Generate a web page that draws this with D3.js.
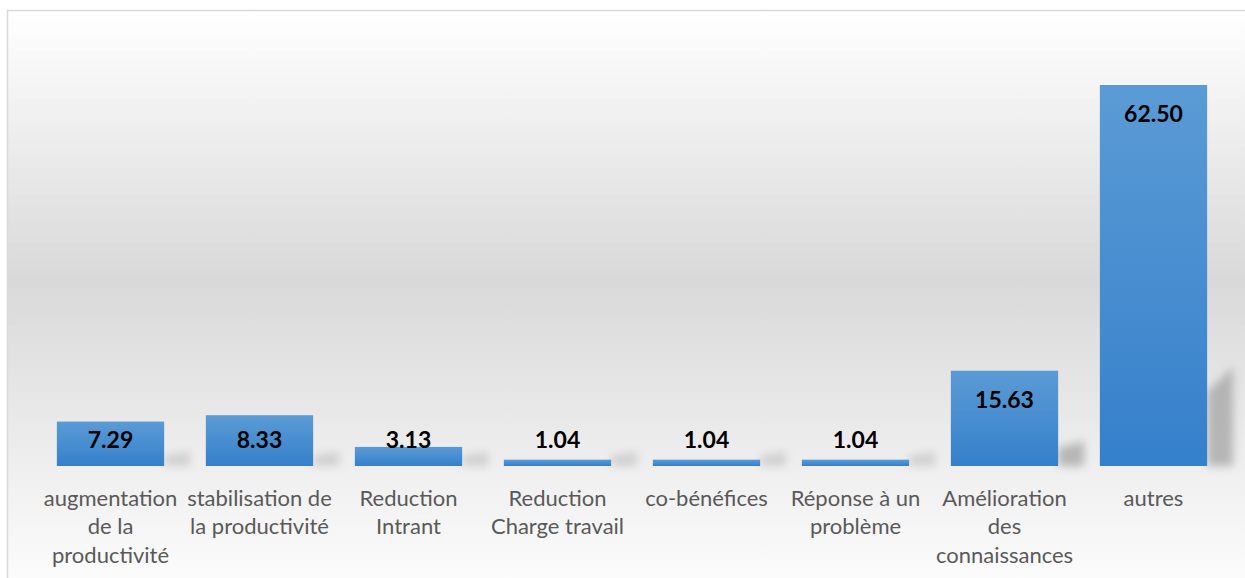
<!DOCTYPE html>
<html><head><meta charset="utf-8">
<script src="https://cdn.jsdelivr.net/npm/d3@7"></script>
<style>html,body{margin:0;padding:0;background:#fff;}svg{display:block;}</style>
</head><body>
<script>
const categories = ["augmentation\nde la\nproductivité","stabilisation de\nla productivité","Reduction\nIntrant","Reduction\nCharge travail","co-bénéfices","Réponse à un\nproblème","Amélioration\ndes\nconnaissances","autres"];
const values = [7.29, 8.33, 3.13, 1.04, 1.04, 1.04, 15.63, 62.50];
const valueLabels = ["7.29","8.33","3.13","1.04","1.04","1.04","15.63","62.50"];

const W = 1245, H = 578;
const svg = d3.select("body").append("svg").attr("width", W).attr("height", H);
const defs = svg.append("defs");

const bg = defs.append("linearGradient").attr("id","bg").attr("x1",0).attr("y1",0).attr("x2",0).attr("y2",1);
bg.append("stop").attr("offset","0%").attr("stop-color","#ffffff");
bg.append("stop").attr("offset","45%").attr("stop-color","#d9d9d9");
bg.append("stop").attr("offset","100%").attr("stop-color","#ffffff");

const bar = defs.append("linearGradient").attr("id","bar").attr("x1",0).attr("y1",0).attr("x2",0).attr("y2",1);
bar.append("stop").attr("offset","0%").attr("stop-color","#5b9bd5");
bar.append("stop").attr("offset","100%").attr("stop-color","#3580cb");

const blur = defs.append("filter").attr("id","blur").attr("x","-50%").attr("y","-50%").attr("width","200%").attr("height","200%");
blur.append("feGaussianBlur").attr("stdDeviation",4.5);

// background frame
svg.append("rect").attr("x",7.5).attr("y",10.5).attr("width",W+20).attr("height",H+20)
  .attr("fill","url(#bg)").attr("stroke","#d9d9d9").attr("stroke-width",1.5);

const x = d3.scaleBand().domain(categories).range([36,1228]).paddingInner(0.28).paddingOuter(0.14);
const y = d3.scaleLinear().domain([0,70]).range([466, 466-70*6.096]);
const data = categories.map((c,i)=>({c, v:values[i], l:valueLabels[i]}));

// shadows
svg.append("g").selectAll("path").data(data).join("path")
  .attr("d", d => {
    const xr = x(d.c)+x.bandwidth(), b = y(0), h = y(0)-y(d.v);
    const sh = Math.max(Math.min(h*0.26, 100), 14), sw = 26;
    return `M${xr},${b} L${xr},${b-sh*0.75} L${xr+sw},${b-sh} L${xr+sw},${b} Z`;
  })
  .attr("fill","#9a9a9a").attr("opacity", d => d.v > 10 ? 0.65 : 0.35).attr("filter","url(#blur)");

// bars
svg.append("g").selectAll("rect").data(data).join("rect")
  .attr("x", d=>x(d.c)).attr("width", x.bandwidth())
  .attr("y", d=>y(d.v)).attr("height", d=>y(0)-y(d.v))
  .attr("fill","url(#bar)");

// value labels
svg.append("g").selectAll("text").data(data).join("text")
  .attr("x", d=>x(d.c)+x.bandwidth()/2)
  .attr("y", d=>Math.min(y(d.v)+28, y(0)-27))
  .attr("text-anchor","middle").attr("dominant-baseline","central")
  .attr("font-family","Lato, 'Open Sans', sans-serif").attr("font-weight","bold")
  .attr("font-size","23px").attr("fill","#000")
  .text(d=>d.l);

// category axis labels
const xAxis = d3.axisBottom(x).tickSize(0).tickFormat("");
const ax = svg.append("g").attr("transform",`translate(0,${y(0)})`).call(xAxis);
ax.select(".domain").remove();
ax.selectAll(".tick").each(function(d){
  const g = d3.select(this);
  const lines = d.split("\n");
  const t = g.append("text").attr("text-anchor","middle")
    .attr("font-family","Lato, 'Open Sans', sans-serif").attr("font-size","22px").attr("fill","#595959");
  lines.forEach((ln,i)=>{
    t.append("tspan").attr("x",0).attr("y",31+i*28.5).attr("dominant-baseline","central").text(ln);
  });
});
</script>
</body></html>
